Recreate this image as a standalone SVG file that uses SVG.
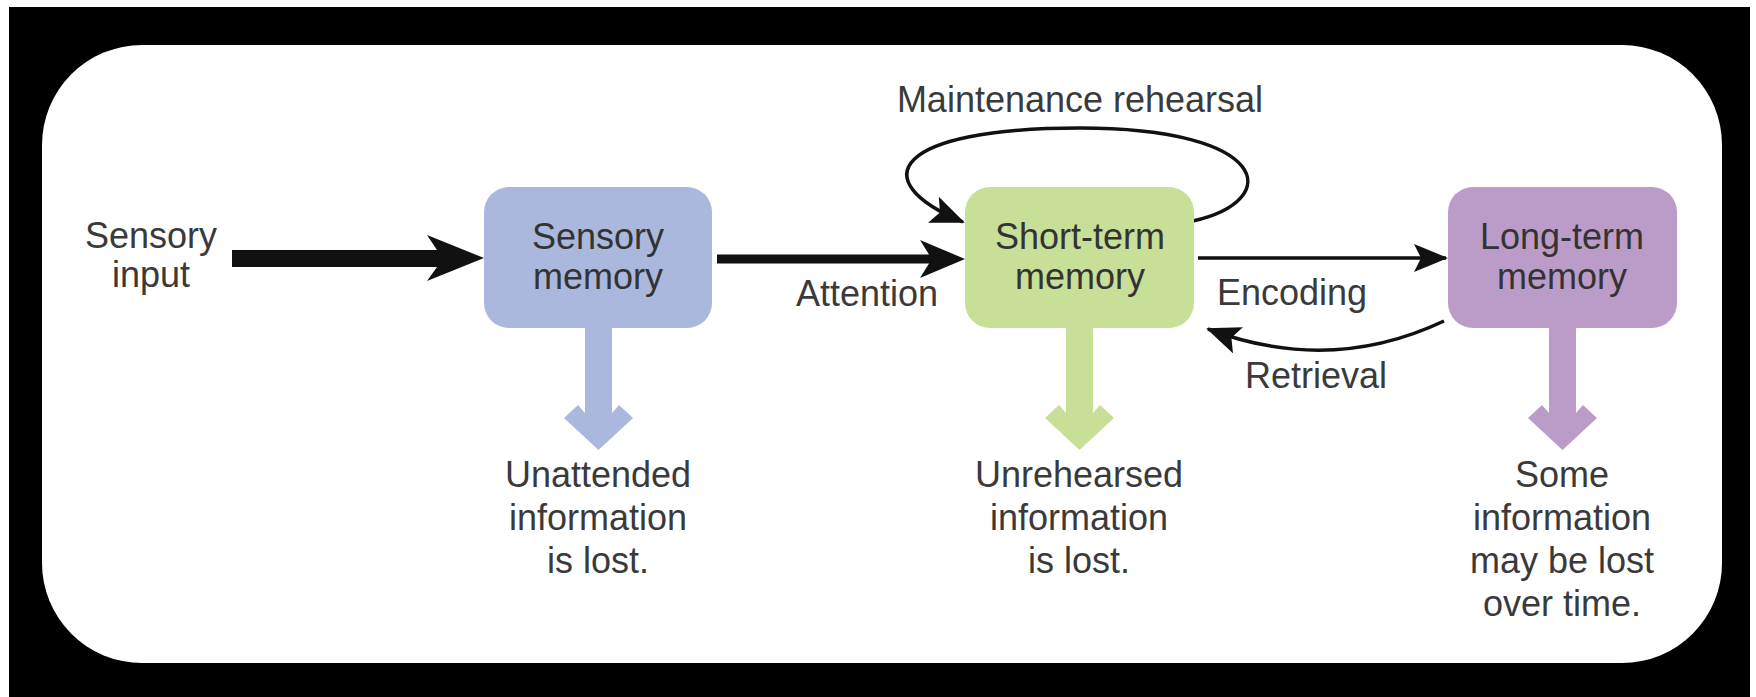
<svg xmlns="http://www.w3.org/2000/svg" width="1756" height="697" viewBox="0 0 1756 697">
<defs>
<style>
.t{font-family:"Liberation Sans",Arial,sans-serif;font-size:36px;fill:#3a3a3a;text-anchor:middle}
.tb{font-family:"Liberation Sans",Arial,sans-serif;font-size:36px;fill:#333;text-anchor:middle}
.ln{fill:none;stroke:#111;stroke-width:3.5}
.blk{fill:#111}
</style>
<marker id="head" markerUnits="userSpaceOnUse" markerWidth="34" markerHeight="28" viewBox="0 0 34 28" refX="32" refY="14" orient="auto">
<path d="M0,0 L34,14 L0,28 L7,14 Z" fill="#111"/>
</marker>
</defs>
<rect x="0" y="0" width="1756" height="697" fill="#fff"/>
<rect x="9" y="7" width="1741" height="690" fill="#000"/>
<rect x="42" y="45" width="1680" height="618" rx="100" ry="100" fill="#fff"/>

<g id="connectors">
<polygon class="blk" points="232,250 437,250 427,235 484,258 427,281 437,267 232,267"/>
<polygon class="blk" points="717,254.5 929,254.5 920,240 965,259 920,278 929,263.5 717,263.5"/>
<path class="ln" d="M1198,258 L1446,258" marker-end="url(#head)"/>
<path class="ln" d="M1444,321 Q1330,375 1208,329" marker-end="url(#head)"/>
<path class="ln" d="M1193,221 C1285,200 1270,128 1080,128 C895,128 862,180 963,222" marker-end="url(#head)"/>
<path fill="#a9b8dc" d="M585,328 L612,328 L612,413 L619,405 L633,418 L598.5,450 L564,418 L578,405 L585,413 Z"/>
<path fill="#c8df97" d="M1066,328 L1093,328 L1093,413 L1100,405 L1114,418 L1079.5,450 L1045,418 L1059,405 L1066,413 Z"/>
<path fill="#bb9cc9" d="M1549,328 L1576,328 L1576,413 L1583,405 L1597,418 L1562.5,450 L1528,418 L1542,405 L1549,413 Z"/>
</g>

<g id="sensory-input">
<text class="t" x="151" y="248">Sensory</text>
<text class="t" x="151" y="287">input</text>
</g>
<g id="sensory-memory">
<rect x="484" y="187" width="228" height="141" rx="25" fill="#a9b8dc"/>
<text class="tb" x="598" y="249">Sensory</text>
<text class="tb" x="598" y="289">memory</text>
</g>
<g id="short-term-memory">
<rect x="965" y="187" width="229" height="141" rx="25" fill="#c8df97"/>
<text class="tb" x="1080" y="249">Short-term</text>
<text class="tb" x="1080" y="289">memory</text>
</g>
<g id="long-term-memory">
<rect x="1448" y="187" width="229" height="141" rx="25" fill="#bb9cc9"/>
<text class="tb" x="1562" y="249">Long-term</text>
<text class="tb" x="1562" y="289">memory</text>
</g>
<g id="label-maintenance"><text class="t" x="1080" y="112">Maintenance rehearsal</text></g>
<g id="label-attention"><text class="t" x="867" y="306">Attention</text></g>
<g id="label-encoding"><text class="t" x="1292" y="305">Encoding</text></g>
<g id="label-retrieval"><text class="t" x="1316" y="388">Retrieval</text></g>
<g id="loss-sensory">
<text class="t" x="598" y="487">Unattended</text>
<text class="t" x="598" y="530">information</text>
<text class="t" x="598" y="573">is lost.</text>
</g>
<g id="loss-short-term">
<text class="t" x="1079" y="487">Unrehearsed</text>
<text class="t" x="1079" y="530">information</text>
<text class="t" x="1079" y="573">is lost.</text>
</g>
<g id="loss-long-term">
<text class="t" x="1562" y="487">Some</text>
<text class="t" x="1562" y="530">information</text>
<text class="t" x="1562" y="573">may be lost</text>
<text class="t" x="1562" y="616">over time.</text>
</g>
</svg>
